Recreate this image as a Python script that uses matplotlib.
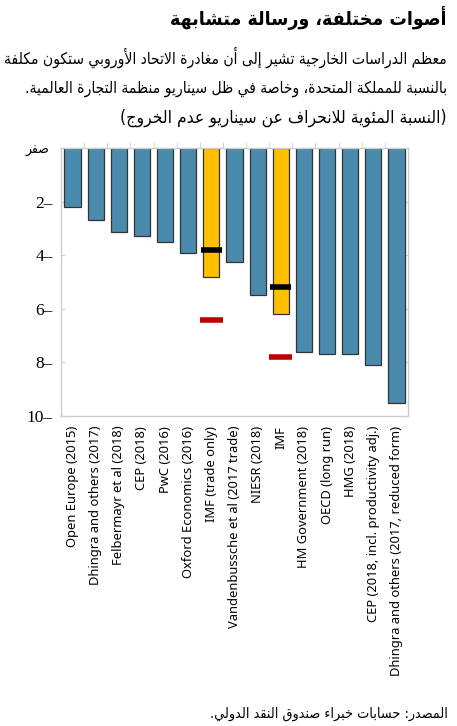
import matplotlib
matplotlib.use("Agg")
import matplotlib.pyplot as plt
import numpy as np

# ---------------- data ----------------
categories = [
    "Open Europe (2015)",
    "Dhingra and others (2017)",
    "Felbermayr et al (2018)",
    "CEP (2018)",
    "PwC (2016)",
    "Oxford Economics (2016)",
    "IMF (trade only)",
    "Vandenbussche et al (2017 trade)",
    "NIESR (2018)",
    "IMF",
    "HM Government (2018)",
    "OECD (long run)",
    "HMG (2018)",
    "CEP (2018, incl. productivity adj.)",
    "Dhingra and others (2017, reduced form)",
]
values = [-2.2, -2.7, -3.15, -3.3, -3.5, -3.9, -4.8, -4.25, -5.5, -6.2,
          -7.6, -7.7, -7.7, -8.1, -9.5]
is_imf = [False, False, False, False, False, False, True, False, False, True,
          False, False, False, False, False]
black_marks = [np.nan] * 6 + [-3.8] + [np.nan] * 2 + [-5.2] + [np.nan] * 5
red_marks = [np.nan] * 6 + [-6.4] + [np.nan] * 2 + [-7.8] + [np.nan] * 5
yticks = [0, -2, -4, -6, -8, -10]

title = "أصوات مختلفة، ورسالة متشابهة"
sub1 = "معظم الدراسات الخارجية تشير إلى أن مغادرة الاتحاد الأوروبي ستكون مكلفة"
sub2 = "بالنسبة للمملكة المتحدة، وخاصة في ظل سيناريو منظمة التجارة العالمية."
units = "(النسبة المئوية للانحراف عن سيناريو عدم الخروج)"
source = "المصدر: حسابات خبراء صندوق النقد الدولي."
zero_label = "صفر"

# ---------------- Arabic shaping (presentation forms) ----------------
RIGHT = {'\u0622': 0xFE81, '\u0623': 0xFE83, '\u0624': 0xFE85, '\u0625': 0xFE87,
         '\u0627': 0xFE8D, '\u0629': 0xFE93, '\u062F': 0xFEA9, '\u0630': 0xFEAB,
         '\u0631': 0xFEAD, '\u0632': 0xFEAF, '\u0648': 0xFEED, '\u0649': 0xFEEF}
DUAL = {'\u0626': 0xFE89, '\u0628': 0xFE8F, '\u062A': 0xFE95, '\u062B': 0xFE99,
        '\u062C': 0xFE9D, '\u062D': 0xFEA1, '\u062E': 0xFEA5, '\u0633': 0xFEB1,
        '\u0634': 0xFEB5, '\u0635': 0xFEB9, '\u0636': 0xFEBD, '\u0637': 0xFEC1,
        '\u0638': 0xFEC5, '\u0639': 0xFEC9, '\u063A': 0xFECD, '\u0641': 0xFED1,
        '\u0642': 0xFED5, '\u0643': 0xFED9, '\u0644': 0xFEDD, '\u0645': 0xFEE1,
        '\u0646': 0xFEE5, '\u0647': 0xFEE9, '\u064A': 0xFEF1}
NONJ = {'\u0621': 0xFE80}
LAMALEF = {'\u0622': 0xFEF5, '\u0623': 0xFEF7, '\u0625': 0xFEF9, '\u0627': 0xFEFB}
MIRROR = {'(': ')', ')': '('}


def shape(s):
    out = []
    n = len(s)
    i = 0
    while i < n:
        c = s[i]
        prev = s[i - 1] if i > 0 else ''
        joins_prev = prev in DUAL
        if c == '\u0644' and i + 1 < n and s[i + 1] in LAMALEF:
            out.append(chr(LAMALEF[s[i + 1]] + (1 if joins_prev else 0)))
            i += 2
            continue
        nxt = s[i + 1] if i + 1 < n else ''
        if c in DUAL:
            joins_next = (nxt in DUAL) or (nxt in RIGHT)
            base = DUAL[c]
            if joins_prev and joins_next:
                out.append(chr(base + 3))
            elif joins_prev:
                out.append(chr(base + 1))
            elif joins_next:
                out.append(chr(base + 2))
            else:
                out.append(chr(base))
        elif c in RIGHT:
            out.append(chr(RIGHT[c] + (1 if joins_prev else 0)))
        elif c in NONJ:
            out.append(chr(NONJ[c]))
        else:
            out.append(c)
        i += 1
    return ''.join(MIRROR.get(ch, ch) for ch in reversed(out))


# ---------------- figure ----------------
W, H = 457, 726
fig = plt.figure(figsize=(W / 100, H / 100), dpi=100)
fig.patch.set_facecolor("white")
renderer = fig.canvas.get_renderer()

ax = fig.add_axes([61 / W, 1 - 416 / H, (408 - 61) / W, (416 - 148) / H])
x = np.arange(len(categories))
bar_colors = ["#FFC000" if f else "#4A8BAD" for f in is_imf]
ax.bar(x, values, width=0.7, color=bar_colors, edgecolor="#333333", linewidth=0.9, zorder=2)
ax.hlines(black_marks, x - 0.45, x + 0.45, colors="black", linewidth=4.0, zorder=3)
ax.hlines(red_marks, x - 0.5, x + 0.5, colors="#C00000", linewidth=4.0, zorder=3)

ax.set_xlim(-0.5, len(categories) - 0.5)
ax.set_ylim(-10, 0)
for sp in ax.spines.values():
    sp.set_color("#CCCCCC")
    sp.set_linewidth(1.0)

ax.set_xticks(x)
ax.set_xticklabels(categories, rotation=90, fontfamily="Noto Sans", fontsize=9.3)
ax.tick_params(axis="x", length=0, pad=7)
ax.set_xticks(np.arange(0.5, len(categories) - 1, 1.0), minor=True)
ax.tick_params(axis="x", which="minor", top=True, bottom=False, direction="out",
               length=4, color="#CCCCCC")

ax.set_yticks(yticks)
ylabels = [shape(zero_label) + " " if v == 0 else f"{abs(v)}\u2013" for v in yticks]
ax.set_yticklabels(ylabels, fontfamily=["Liberation Serif", "DejaVu Sans"], fontsize=12.5)
ax.tick_params(axis="y", left=True, right=True, direction="in", length=3,
               color="#CCCCCC", pad=6)
for lab, v in zip(ax.get_yticklabels(), yticks):
    if v == 0:
        lab.set_fontsize(10)
        lab.set_fontstretch("condensed")


def fit_text(xr, yc, s, target_w, weight="normal", size=None):
    t = fig.text(xr / W, 1 - yc / H, s, ha="right", va="center",
                 fontfamily="DejaVu Sans", fontstretch="condensed",
                 fontweight=weight, fontsize=12)
    if size is None:
        w = t.get_window_extent(renderer).width
        size = 12 * target_w / w
    t.set_fontsize(size)
    return size


fit_text(447, 18, shape(title), 275, weight="bold")
s1 = fit_text(447, 57, shape(sub1), 442)
fit_text(447, 89, shape(sub2), None, size=s1)
fit_text(447, 118, shape(units), 325)
fit_text(448, 714, shape(source), 236)

fig.savefig("out.png", dpi=100, facecolor="white")
